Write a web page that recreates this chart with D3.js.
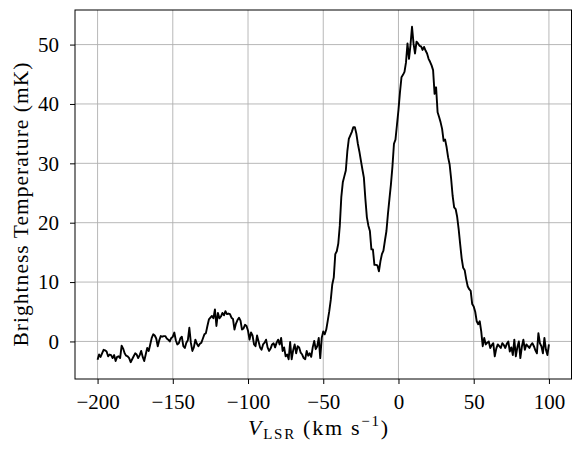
<!DOCTYPE html>
<html>
<head>
<meta charset="utf-8">
<script src="https://cdn.jsdelivr.net/npm/d3@7"></script>
<style>
  body { margin: 0; background: #fff; }
  text { font-family: "Liberation Serif", "DejaVu Serif", serif; }
  .grid line { stroke: #b0b0b0; stroke-width: 0.9; }
</style>
</head>
<body>
<div id="chart"></div>
<script>
// spectrum channels, 1 km/s apart from -200 to 100
var velocity = d3.range(-200, 101, 1);
var brightness = [
  -3.1, -2.2, -2.6, -2.0, -1.4, -1.5, -1.7, -2.5, -2.2, -2.3,
  -2.8, -2.3, -3.3, -2.6, -2.5, -2.8, -0.7, -1.2, -2.0, -2.4,
  -2.5, -2.8, -3.5, -3.0, -2.5, -2.0, -2.2, -2.8, -2.3, -1.6,
  -2.6, -3.3, -2.2, -1.1, -1.6, -0.5, 0.6, 1.2, 1.0, 0.5,
  -0.8, 0.2, 0.9, 0.8, 0.9, 0.9, 0.5, 0.3, 0.0, 0.6,
  0.8, 1.5, 0.2, -0.5, -0.3, 0.5, 0.8, -0.8, -1.1, -0.2,
  0.2, 2.3, -0.2, -1.6, -1.0, 0.3, -0.4, -0.8, -0.4, -0.2,
  0.5, 1.2, 1.4, 2.6, 3.7, 4.0, 4.3, 3.9, 5.4, 2.6,
  4.8, 3.9, 4.2, 4.8, 4.4, 5.1, 4.6, 4.7, 4.6, 4.0,
  3.8, 2.0, 3.0, 3.6, 4.0, 3.5, 2.0, 2.2, 2.8, 2.6,
  1.8, 0.3, 1.5, 1.0, -0.5, -0.8, 1.0, 0.0, -1.0, -1.4,
  -0.5, -0.2, 0.3, -1.0, -1.6, -1.2, -0.5, -0.3, -1.0, -0.2,
  0.3, -0.5, 0.6, -1.6, -1.0, -2.5, -2.2, -3.0, -0.1, -3.0,
  -1.5, -0.5, -2.0, -0.8, -1.0, -1.9, -2.2, -2.8, -3.0, -1.6,
  -2.4, -2.0, -2.6, -1.0, 0.1, -1.3, -0.8, 0.6, -2.8, 0.6,
  1.7, 1.2, 2.0, 3.5, 5.1, 7.0, 9.6, 10.8, 14.7, 15.2,
  16.5, 19.5, 24.3, 26.8, 27.8, 28.8, 32.0, 34.1, 34.7, 35.3,
  36.1, 36.1, 35.0, 33.3, 32.0, 30.5, 29.0, 27.6, 24.0, 20.9,
  19.5, 18.6, 15.5, 15.5, 12.9, 12.9, 12.8, 11.8, 13.5, 14.7,
  15.3, 17.0, 18.6, 21.5, 24.0, 26.5, 29.5, 33.3, 34.0, 36.5,
  39.0, 42.0, 44.5, 44.9, 45.4, 47.0, 50.2, 47.6, 50.0, 53.0,
  50.2, 48.5, 50.5, 50.2, 49.8, 49.7, 49.1, 49.6, 49.0, 48.5,
  47.6, 47.1, 46.5, 45.7, 41.7, 42.8, 38.6, 37.8, 36.9, 35.8,
  33.8, 34.0, 32.7, 31.0, 29.8, 27.4, 24.5, 22.6, 22.3, 21.0,
  18.9, 16.4, 14.0, 12.4, 12.0, 10.5, 9.3, 8.8, 8.5, 6.3,
  5.9, 5.0, 3.4, 2.9, 3.4, 1.7, -0.8, 0.6, -0.5, -0.2,
  0.0, -1.1, -0.6, -0.3, -2.5, -1.2, -0.5, -0.8, -1.1, -0.3,
  -0.6, -1.1, -0.4, 0.0, -1.7, -1.0, -2.3, 0.3, -2.5, -1.0,
  0.0, -2.8, -0.9, 0.3, -1.4, -0.5, -0.8, -1.1, -0.6, -0.3,
  -0.8, -1.5, -2.0, 1.4, -0.3, -0.8, -2.0, 0.6, -1.4, -2.3,
  -0.5, 1.1
];
var xTicks = [-200, -150, -100, -50, 0, 50, 100];
var yTicks = [0, 10, 20, 30, 40, 50];

var width = 581;
var height = 454;
var margin = { left: 75, top: 10, right: 9.5, bottom: 75 };
var innerW = width - margin.left - margin.right;
var innerH = height - margin.top - margin.bottom;

var points = velocity.map(function (v, i) { return { v: v, t: brightness[i] }; });

// matplotlib style 5% padding
var xExt = d3.extent(velocity);
var yExt = d3.extent(brightness);
var xPad = (xExt[1] - xExt[0]) * 0.05;
var yPad = (yExt[1] - yExt[0]) * 0.05;

var x = d3.scaleLinear()
    .domain([xExt[0] - xPad, xExt[1] + xPad])
    .range([0, innerW]);
var y = d3.scaleLinear()
    .domain([yExt[0] - yPad, yExt[1] + yPad])
    .range([innerH, 0]);

var svg = d3.select("#chart").append("svg")
    .attr("width", width)
    .attr("height", height);
var g = svg.append("g")
    .attr("transform", "translate(" + margin.left + "," + margin.top + ")");

// grid
g.append("g")
    .attr("class", "grid")
    .selectAll("line.gx")
    .data(xTicks)
    .enter().append("line")
    .attr("x1", d => x(d)).attr("x2", d => x(d))
    .attr("y1", 0).attr("y2", innerH);
g.append("g")
    .attr("class", "grid")
    .selectAll("line.gy")
    .data(yTicks)
    .enter().append("line")
    .attr("x1", 0).attr("x2", innerW)
    .attr("y1", d => y(d)).attr("y2", d => y(d));

var fmt = d => (d < 0 ? "\u2212" + Math.abs(d) : "" + d);

var xAxis = g.append("g")
    .attr("transform", "translate(0," + innerH + ")")
    .call(d3.axisBottom(x).tickValues(xTicks).tickFormat(fmt).tickSize(5).tickPadding(10));
var yAxis = g.append("g")
    .call(d3.axisLeft(y).tickValues(yTicks).tickFormat(fmt).tickSize(5).tickPadding(10));

[xAxis, yAxis].forEach(function (a) {
    a.select(".domain").remove();
    a.selectAll(".tick line").attr("stroke", "#000").attr("stroke-width", 1);
    a.selectAll(".tick text")
        .attr("fill", "#000")
        .style("font-family", '"Liberation Serif", serif')
        .style("font-size", "21px");
});
yAxis.selectAll(".tick text").attr("x", -16);

// spectrum line
var line = d3.line()
    .x(d => x(d.v))
    .y(d => y(d.t));
g.append("path")
    .datum(points)
    .attr("fill", "none")
    .attr("stroke", "#000")
    .attr("stroke-width", 1.9)
    .attr("stroke-linejoin", "round")
    .attr("d", line);

// frame
g.append("rect")
    .attr("width", innerW)
    .attr("height", innerH)
    .attr("fill", "none")
    .attr("stroke", "#000")
    .attr("stroke-width", 1);

// axis labels
var xl = svg.append("text")
    .attr("x", 248)
    .attr("y", 435)
    .style("font-size", "22px");
xl.append("tspan").style("font-style", "italic").text("V");
xl.append("tspan").attr("dy", 4).style("font-size", "15px").text("LSR");
xl.append("tspan").attr("dy", -4).text(" (km s");
xl.append("tspan").attr("dy", -9).style("font-size", "15px").text("\u22121");
xl.append("tspan").attr("dy", 9).text(")");
// stretch to the reference label width
var xlw = xl.node().getComputedTextLength();
xl.attr("textLength", 140).attr("lengthAdjust", "spacing");

svg.append("text")
    .attr("transform", "translate(28," + (margin.top + innerH / 2 + 10) + ") rotate(-90)")
    .attr("text-anchor", "middle")
    .attr("textLength", 284)
    .attr("lengthAdjust", "spacing")
    .style("font-size", "21.5px")
    .text("Brightness Temperature (mK)");
</script>
</body>
</html>
